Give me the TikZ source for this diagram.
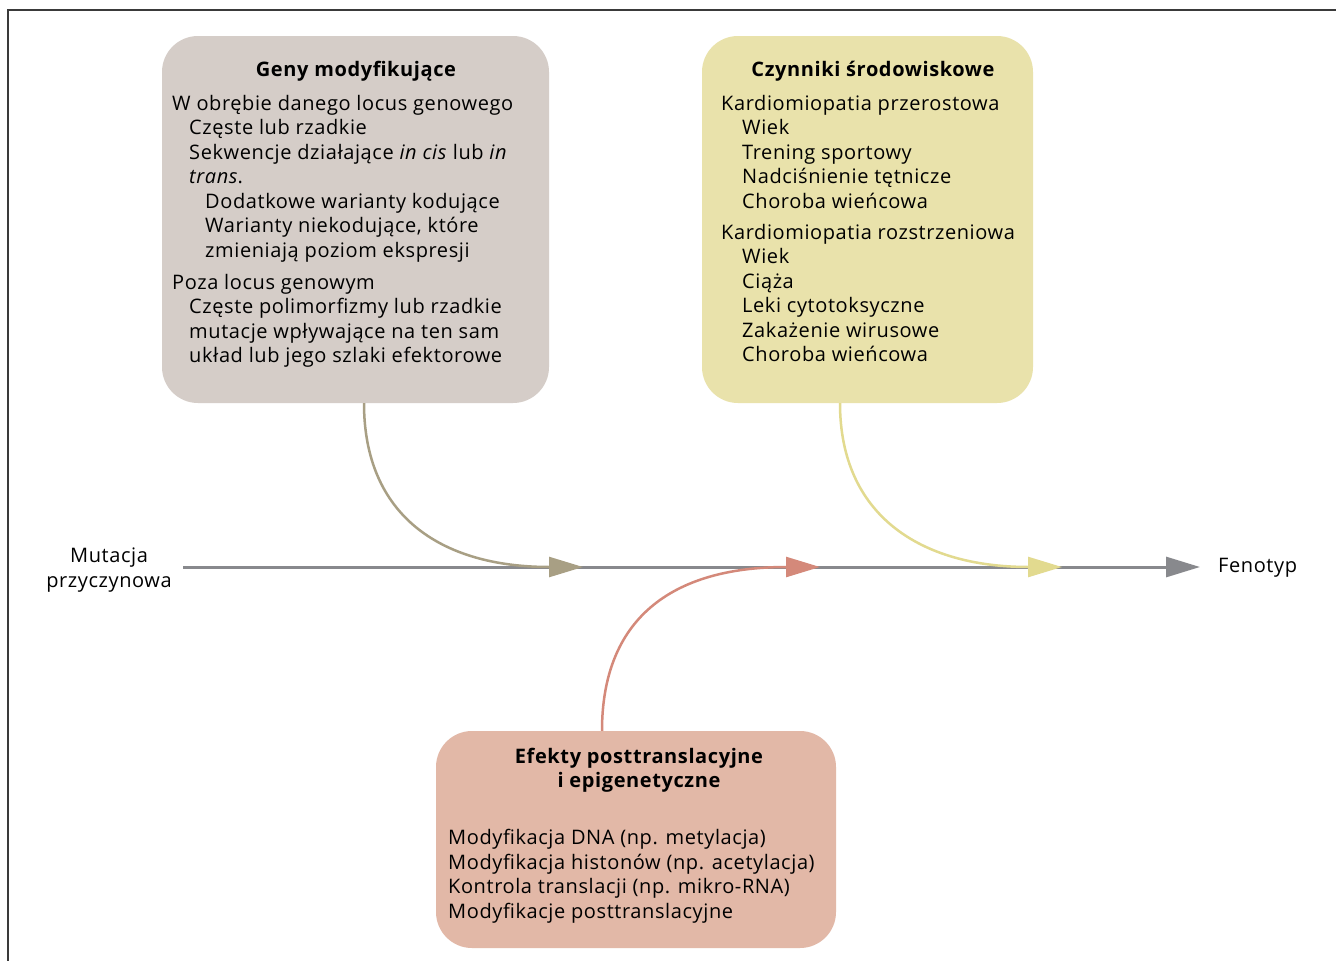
\documentclass[tikz,border=0pt]{standalone}
\usepackage{fontspec}
\setmainfont{Open Sans}[LetterSpace=3]
\usetikzlibrary{arrows.meta}
\definecolor{boxgrey}{HTML}{D5CDC8}
\definecolor{boxyel}{HTML}{E9E2AB}
\definecolor{boxsal}{HTML}{E2B8A7}
\definecolor{arrbeige}{HTML}{A89F84}
\definecolor{arrgrey}{HTML}{88898D}
\definecolor{arrsal}{HTML}{D4897A}
\definecolor{arryel}{HTML}{E2DA8F}
\definecolor{framec}{HTML}{3A3A3A}
\tikzset{
  panel/.style={rounded corners=36pt, inner sep=0pt, draw=none},
  txt/.style={inner sep=0pt, align=left, anchor=north west, font=\fontsize{20}{24.5}\selectfont},
  ttl/.style={inner sep=0pt, align=center, font=\fontsize{20}{24.5}\selectfont\bfseries},
  conn/.style={line width=2.5pt},
  tip/.style={-{Triangle[length=34pt,width=20pt]}}
}
\newcommand{\ia}{\hspace*{17pt}}
\newcommand{\ib}{\hspace*{33pt}}
\begin{document}
\begin{tikzpicture}[x=1pt,y=-1pt]
\useasboundingbox (0,0) rectangle (1336,961);
\fill[white] (0,0) rectangle (1336,961);
% frame
\draw[framec, line width=2pt] (8,961) -- (8,10) -- (1336,10);

% boxes
\node[panel, fill=boxgrey, minimum width=387pt, minimum height=367pt] (geny) at (355.5,219.5) {};
\node[panel, fill=boxyel, minimum width=331pt, minimum height=367pt] (czyn) at (867.5,219.5) {};
\node[panel, fill=boxsal, minimum width=400pt, minimum height=217pt] (efek) at (636,839.5) {};

% box 1 text
\node[ttl] (genyt) at (356,71) {Geny modyfikujące};
\node[txt] (genya) at (172,95) {W obrębie danego locus genowego\\
\ia Częste lub rzadkie\\
\ia Sekwencje działające \textit{in cis} lub \textit{in}\\
\ia \textit{trans}.\\
\ib Dodatkowe warianty kodujące\\
\ib Warianty niekodujące, które\\
\ib zmieniają poziom ekspresji};
\node[txt] (genyb) at (172,274) {Poza locus genowym\\
\ia Częste polimorfizmy lub rzadkie\\
\ia mutacje wpływające na ten sam\\
\ia układ lub jego szlaki efektorowe};

% box 2 text
\node[ttl] (czynt) at (873,71) {Czynniki środowiskowe};
\node[txt] (czyna) at (721,95) {Kardiomiopatia przerostowa\\
\hspace*{21pt}Wiek\\
\hspace*{21pt}Trening sportowy\\
\hspace*{21pt}Nadciśnienie tętnicze\\
\hspace*{21pt}Choroba wieńcowa};
\node[txt] (czynb) at (721,224) {Kardiomiopatia rozstrzeniowa\\
\hspace*{21pt}Wiek\\
\hspace*{21pt}Ciąża\\
\hspace*{21pt}Leki cytotoksyczne\\
\hspace*{21pt}Zakażenie wirusowe\\
\hspace*{21pt}Choroba wieńcowa};

% box 3 text
\node[ttl] (efekt) at (639,770) {Efekty posttranslacyjne\\i epigenetyczne};
\node[txt] (efeka) at (448,829) {Modyfikacja DNA (np. metylacja)\\
Modyfikacja histonów (np. acetylacja)\\
Kontrola translacji (np. mikro-RNA)\\
Modyfikacje posttranslacyjne};

% side labels
\node[ttl, font=\fontsize{20}{24.5}\selectfont] (mut) at (109,570) {Mutacja\\przyczynowa};
\node[inner sep=0pt, anchor=west, font=\fontsize{20}{24.5}\selectfont] (fen) at (1218,568) {Fenotyp};

% main axis
\coordinate (axs) at (183,567);
\coordinate (axe) at (1200,567);
\coordinate (m1) at (583,567);
\coordinate (m2) at (820,567);
\coordinate (m3) at (1062,567);
\draw[arrgrey, line width=3pt, tip] (axs) -- (axe);

% curved connectors
\draw[conn, arrbeige, tip] ([xshift=8.5pt]geny.south) .. controls (364,515) and (440,567) .. (m1);
\draw[conn, arryel, tip] ([xshift=-27.5pt]czyn.south) .. controls (840,515) and (920,567) .. (m3);
\draw[conn, arrsal, tip] ([xshift=-34pt]efek.north) .. controls (602,620) and (670,567) .. (m2);
\end{tikzpicture}
\end{document}
